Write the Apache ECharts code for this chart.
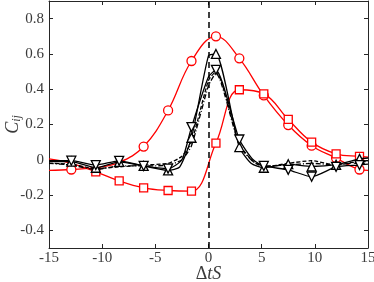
<!DOCTYPE html>
<html>
<head>
<meta charset="utf-8">
<script src="https://cdn.jsdelivr.net/npm/echarts@6/dist/echarts.min.js"></script>
<style>html,body{margin:0;padding:0;background:#fff}#c{width:374px;height:282px}</style>
</head>
<body>
<div id="c"></div>
<script>
// marker x positions
const markerX = [-12.9, -10.6, -8.4, -6.1, -3.8, -1.6, 0.7, 2.9, 5.2, 7.5, 9.7, 12.0, 14.2];

// red, circles
const redCircX = [-15, -12.9, -10.6, -8.4, -6.1, -3.8, -1.6, 0.7, 2.9, 5.2, 7.5, 9.7, 12.0, 14.2, 15];
const redCircY = [-0.06, -0.055, -0.045, -0.015, 0.075, 0.28, 0.56, 0.70, 0.575, 0.365, 0.197, 0.08, 0.01, -0.055, -0.06];
const redCircMarked = [-12.9, -6.1, -3.8, -1.6, 0.7, 2.9, 5.2, 7.5, 9.7, 12.0, 14.2];

// red, squares
const redSqX = [-15, -12.9, -10.6, -8.4, -6.1, -3.8, -1.6, 0.7, 2.9, 5.2, 7.5, 9.7, 12.0, 14.2, 15];
const redSqY = [0.005, -0.02, -0.068, -0.12, -0.159, -0.174, -0.178, 0.095, 0.397, 0.374, 0.229, 0.10, 0.034, 0.019, 0.015];
const redSqMarked = [-10.6, -8.4, -6.1, -3.8, -1.6, 0.7, 2.9, 5.2, 7.5, 9.7, 12.0, 14.2];

// black solid, up triangles
const upX = [-15, -12.9, -10.6, -8.4, -6.1, -3.8, -2.7, -1.6, 0, 0.7, 2.9, 4.0, 5.2, 7.5, 9.7, 12.0, 14.2, 15];
const upY = [-0.01, -0.01, -0.045, -0.012, -0.035, -0.06, -0.04, 0.125, 0.59, 0.60, 0.072, -0.02, -0.045, -0.025, -0.038, -0.028, 0.005, 0.01];

// black solid, down triangles
const downX = [-15, -12.9, -10.6, -8.4, -6.1, -3.8, -2.5, -1.6, 0, 0.7, 2.9, 4.2, 5.2, 7.5, 9.7, 12.0, 14.2, 15];
const downY = [-0.005, -0.005, -0.03, -0.006, -0.035, -0.05, 0.0, 0.185, 0.47, 0.51, 0.115, 0.0, -0.035, -0.057, -0.096, -0.04, -0.03, -0.025];

// black dashed
const dashX = [-15, -12.9, -10.6, -8.4, -6.1, -3.8, -2.5, -1.6, 0, 0.7, 2.9, 4.2, 5.2, 7.5, 9.7, 12.0, 14.2, 15];
const dashY = [-0.02, -0.025, -0.05, -0.04, -0.03, -0.02, 0.02, 0.10, 0.45, 0.50, 0.09, -0.01, -0.04, -0.02, -0.005, -0.03, -0.01, -0.01];

// black dash-dot
const dotX = [-15, -12.9, -10.6, -8.4, -6.1, -3.8, -2.5, -1.6, 0, 0.7, 2.9, 4.2, 5.2, 7.5, 9.7, 12.0, 14.2, 15];
const dotY = [-0.02, -0.03, -0.055, -0.035, -0.035, -0.03, 0.0, 0.08, 0.42, 0.49, 0.08, -0.01, -0.035, -0.03, -0.02, -0.03, -0.01, -0.005];

const xTicks = [-15, -10, -5, 0, 5, 10, 15];
const yTicks = [-0.4, -0.2, 0, 0.2, 0.4, 0.6, 0.8];

function build(xs, ys, marked, sym, rot) {
  const set = new Set(marked);
  return xs.map((x, i) => ({
    value: [x, ys[i]],
    symbol: set.has(x) ? sym : 'none',
    symbolRotate: rot || 0
  }));
}

const axisCol = '#262626';
const labCol = '#3a3a3a';
const font = 'Liberation Serif';

function frameAxis(extra) {
  return Object.assign({
    axisLine: {show: true, onZero: false, lineStyle: {color: axisCol, width: 1}},
    splitLine: {show: false}
  }, extra);
}

const chart = echarts.init(document.getElementById('c'), null, {renderer: 'canvas'});
chart.setOption({
  animation: false,
  textStyle: {fontFamily: font},
  grid: {left: 49, right: 6, top: 1, bottom: 34, containLabel: false, outerBoundsMode: 'none'},
  xAxis: [frameAxis({
    type: 'value', min: -15, max: 15, interval: 5,
    axisTick: {inside: true, length: 4, customValues: xTicks, lineStyle: {color: axisCol}},
    axisLabel: {color: labCol, fontFamily: font, fontSize: 15, margin: 3, customValues: xTicks},
    name: '{u|Δ}{i|tS}', nameLocation: 'middle', nameGap: 17, nameMoveOverlap: false,
    nameTextStyle: {
      rich: {
        u: {fontFamily: font, fontSize: 18, color: labCol},
        i: {fontFamily: font, fontStyle: 'italic', fontSize: 18, color: labCol}
      }
    }
  }), frameAxis({
    type: 'value', min: -15, max: 15, interval: 5, position: 'top',
    axisTick: {inside: true, length: 4, customValues: xTicks, lineStyle: {color: axisCol}},
    axisLabel: {show: false}
  })],
  yAxis: [frameAxis({
    type: 'value', min: -0.5, max: 0.9,
    axisTick: {inside: true, length: 4, customValues: yTicks, lineStyle: {color: axisCol}},
    axisLabel: {color: labCol, fontFamily: font, fontSize: 15, margin: 5, customValues: yTicks,
      formatter: v => (Math.abs(v) < 1e-9 ? '0' : String(Math.round(v * 10) / 10))},
    name: '{c|C}{s|ij}', nameLocation: 'middle', nameGap: 26, nameRotate: 90, nameMoveOverlap: false,
    nameTextStyle: {
      rich: {
        c: {fontFamily: font, fontStyle: 'italic', fontSize: 18, color: labCol},
        s: {fontFamily: font, fontStyle: 'italic', fontSize: 12, color: labCol, padding: [8, 0, 0, 0]}
      }
    }
  }), frameAxis({
    type: 'value', min: -0.5, max: 0.9, position: 'right',
    axisTick: {inside: true, length: 4, customValues: yTicks, lineStyle: {color: axisCol}},
    axisLabel: {show: false}
  })],
  series: [
    {
      type: 'line', smooth: 0.4, data: build(redCircX, redCircY, redCircMarked, 'circle'),
      symbolSize: 9, lineStyle: {color: '#ff0000', width: 1.3},
      itemStyle: {color: '#fff', borderColor: '#ff0000', borderWidth: 1.3}, z: 2,
      markLine: {
        silent: true, symbol: 'none', label: {show: false},
        lineStyle: {color: '#000', type: [6, 4], width: 1.5},
        data: [{xAxis: 0}]
      }
    },
    {
      type: 'line', smooth: 0.4, data: build(redSqX, redSqY, redSqMarked, 'rect'),
      symbolSize: 8, lineStyle: {color: '#ff0000', width: 1.3},
      itemStyle: {color: '#fff', borderColor: '#ff0000', borderWidth: 1.3}, z: 2
    },
    {
      type: 'line', smooth: 0.2, data: build(dashX, dashY, [], 'none'),
      lineStyle: {color: '#000', width: 1.3, type: [4, 2]}, z: 3
    },
    {
      type: 'line', smooth: 0.2, data: build(dotX, dotY, [], 'none'),
      lineStyle: {color: '#000', width: 1.3, type: [5, 2, 1, 2]}, z: 3
    },
    {
      type: 'line', smooth: 0.2, data: build(upX, upY, markerX, 'triangle'),
      symbolSize: 9, lineStyle: {color: '#000', width: 1.3},
      itemStyle: {color: '#fff', borderColor: '#000', borderWidth: 1.3}, z: 4
    },
    {
      type: 'line', smooth: 0.2, data: build(downX, downY, markerX, 'triangle', 180),
      symbolSize: 9, lineStyle: {color: '#000', width: 1.3},
      itemStyle: {color: '#fff', borderColor: '#000', borderWidth: 1.3}, z: 4
    }
  ]
});
</script>
</body>
</html>
